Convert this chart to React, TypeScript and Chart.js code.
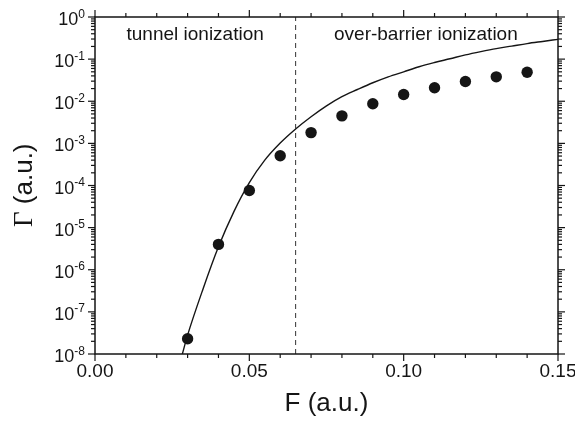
import React, { useEffect, useRef } from 'react';
import { Chart, registerables } from 'chart.js';

Chart.register(...registerables);

const SANS = '"Liberation Sans", Arial, Helvetica, sans-serif';
const SERIF = '"Liberation Serif", "Times New Roman", serif';

// Measured ionization rates (dots)
const fieldStrength = [0.03, 0.04, 0.05, 0.06, 0.07, 0.08, 0.09, 0.10, 0.11, 0.12, 0.13, 0.14];
const rateMeasured = [2.3e-8, 4.0e-6, 7.6e-5, 5.1e-4, 1.8e-3, 4.5e-3, 8.7e-3, 1.45e-2, 2.1e-2, 2.95e-2, 3.8e-2, 4.9e-2];

// Solid curve
const curveField = [0.028, 0.03, 0.035, 0.04, 0.045, 0.05, 0.055, 0.06, 0.065, 0.07, 0.075, 0.08, 0.085, 0.09, 0.095, 0.10, 0.105, 0.11, 0.115, 0.12, 0.125, 0.13, 0.135, 0.14, 0.145, 0.15];
const curveRate = [8.3e-9, 2.8e-8, 3.5e-7, 3.5e-6, 2.4e-5, 1.17e-4, 4.0e-4, 1.02e-3, 2.2e-3, 4.3e-3, 7.8e-3, 1.29e-2, 1.9e-2, 2.75e-2, 3.8e-2, 5.0e-2, 6.6e-2, 8.3e-2, 0.102, 0.126, 0.151, 0.178, 0.204, 0.234, 0.263, 0.295];

// Boundary between regimes (dashed line)
const boundaryField = [0.065, 0.065];
const boundaryRate = [1e-8, 1];

const xTickValues = [0, 0.05, 0.1, 0.15];
const xMinorStep = 0.01;
const yExponents = [0, -1, -2, -3, -4, -5, -6, -7, -8];

const xTitle = 'F (a.u.)';
const yTitleSymbol = 'Γ';
const yTitleUnit = ' (a.u.)';
const regionLabels = ['tunnel ionization', 'over-barrier ionization'];

const INK = '#151515';

const decorPlugin = {
  id: 'decor',
  afterDatasetsDraw(chart: any) {
    const { ctx, chartArea: a, scales } = chart;
    const xs = scales.x;
    const ys = scales.y;
    const seg = (x1: number, y1: number, x2: number, y2: number) => {
      ctx.beginPath();
      ctx.moveTo(x1, y1);
      ctx.lineTo(x2, y2);
      ctx.stroke();
    };
    ctx.save();
    ctx.strokeStyle = INK;
    ctx.fillStyle = INK;
    ctx.lineWidth = 1.5;
    ctx.strokeRect(a.left, a.top, a.right - a.left, a.bottom - a.top);

    // x ticks (bottom and top)
    ctx.lineWidth = 1.2;
    const xMin = xTickValues[0];
    const xMax = xTickValues[xTickValues.length - 1];
    const nx = Math.round((xMax - xMin) / xMinorStep);
    for (let i = 0; i <= nx; i++) {
      const v = xMin + i * xMinorStep;
      const px = xs.getPixelForValue(v);
      const major = xTickValues.some((t) => Math.abs(t - v) < 1e-9);
      const len = major ? 7 : 4;
      seg(px, a.bottom, px, a.bottom + len);
      seg(px, a.top, px, a.top - len);
    }

    // y ticks (left and right)
    for (const e of yExponents) {
      for (let m = 1; m <= 9; m++) {
        if (e === 0 && m > 1) break;
        const py = ys.getPixelForValue(m * Math.pow(10, e));
        const len = m === 1 ? 7 : 4;
        seg(a.left - len, py, a.left, py);
        seg(a.right, py, a.right + len, py);
      }
    }

    // y tick labels: 10^e
    ctx.textAlign = 'right';
    ctx.textBaseline = 'alphabetic';
    for (const e of yExponents) {
      const py = ys.getPixelForValue(Math.pow(10, e));
      const sup = String(e);
      ctx.font = `12px ${SANS}`;
      const supW = ctx.measureText(sup).width;
      const rightEdge = a.left - 10;
      ctx.fillText(sup, rightEdge, py + 0.5);
      ctx.font = `18px ${SANS}`;
      ctx.fillText('10', rightEdge - supW, py + 8);
    }

    // Region labels
    ctx.textAlign = 'left';
    ctx.font = `19px ${SANS}`;
    ctx.fillText(regionLabels[0], a.left + 31.5, a.top + 22.5);
    ctx.fillText(regionLabels[1], a.left + 239, a.top + 22.5);

    // y axis title
    ctx.save();
    ctx.translate(32, 227);
    ctx.rotate(-Math.PI / 2);
    ctx.textAlign = 'left';
    ctx.font = `27px ${SERIF}`;
    ctx.fillText(yTitleSymbol, 0, 0);
    const gw = ctx.measureText(yTitleSymbol).width;
    ctx.font = `26px ${SANS}`;
    ctx.fillText(yTitleUnit, gw, 0);
    ctx.restore();

    ctx.restore();
  },
};

export default function App() {
  const canvasRef = useRef<HTMLCanvasElement | null>(null);

  useEffect(() => {
    document.body.style.margin = '0';
    const canvas = canvasRef.current;
    if (!canvas) return;

    const chart = new Chart(canvas, {
      type: 'line',
      data: {
        datasets: [
          {
            type: 'line',
            data: boundaryField.map((x, i) => ({ x, y: boundaryRate[i] })),
            borderColor: '#333',
            borderWidth: 1,
            borderDash: [5, 4],
            pointRadius: 0,
            fill: false,
          },
          {
            type: 'line',
            data: curveField.map((x, i) => ({ x, y: curveRate[i] })),
            borderColor: INK,
            borderWidth: 1.4,
            pointRadius: 0,
            cubicInterpolationMode: 'monotone',
            fill: false,
          },
          {
            type: 'scatter',
            data: fieldStrength.map((x, i) => ({ x, y: rateMeasured[i] })),
            backgroundColor: INK,
            borderColor: INK,
            borderWidth: 0,
            pointRadius: 5.7,
            showLine: false,
          },
        ],
      } as any,
      options: {
        responsive: false,
        animation: false,
        devicePixelRatio: 1,
        layout: { padding: { top: 17, right: 17, left: 0, bottom: 0 } },
        plugins: {
          legend: { display: false },
          tooltip: { enabled: false },
        },
        events: [],
        scales: {
          x: {
            type: 'linear',
            min: 0,
            max: 0.15,
            grid: { display: false, drawTicks: false },
            border: { display: false },
            afterBuildTicks: (s: any) => {
              s.ticks = xTickValues.map((v) => ({ value: v }));
            },
            afterFit: (s: any) => {
              s.height = 68;
              s.paddingLeft = 0;
              s.paddingRight = 0;
            },
            ticks: {
              color: INK,
              font: { family: SANS, size: 19 },
              padding: 6,
              maxRotation: 0,
              autoSkip: false,
              callback: (v: any) => Number(v).toFixed(2),
            },
            title: {
              display: true,
              text: xTitle,
              color: INK,
              font: { family: SANS, size: 26 },
              padding: { top: 0, bottom: 3 },
            },
          },
          y: {
            type: 'logarithmic',
            min: 1e-8,
            max: 1,
            grid: { display: false, drawTicks: false },
            border: { display: false },
            ticks: { display: false },
            afterFit: (s: any) => {
              s.width = 95;
            },
          },
        },
      } as any,
      plugins: [decorPlugin],
    });

    return () => chart.destroy();
  }, []);

  return (
    <div style={{ width: 575, height: 422, background: '#fff' }}>
      <canvas ref={canvasRef} width={575} height={422} />
    </div>
  );
}
